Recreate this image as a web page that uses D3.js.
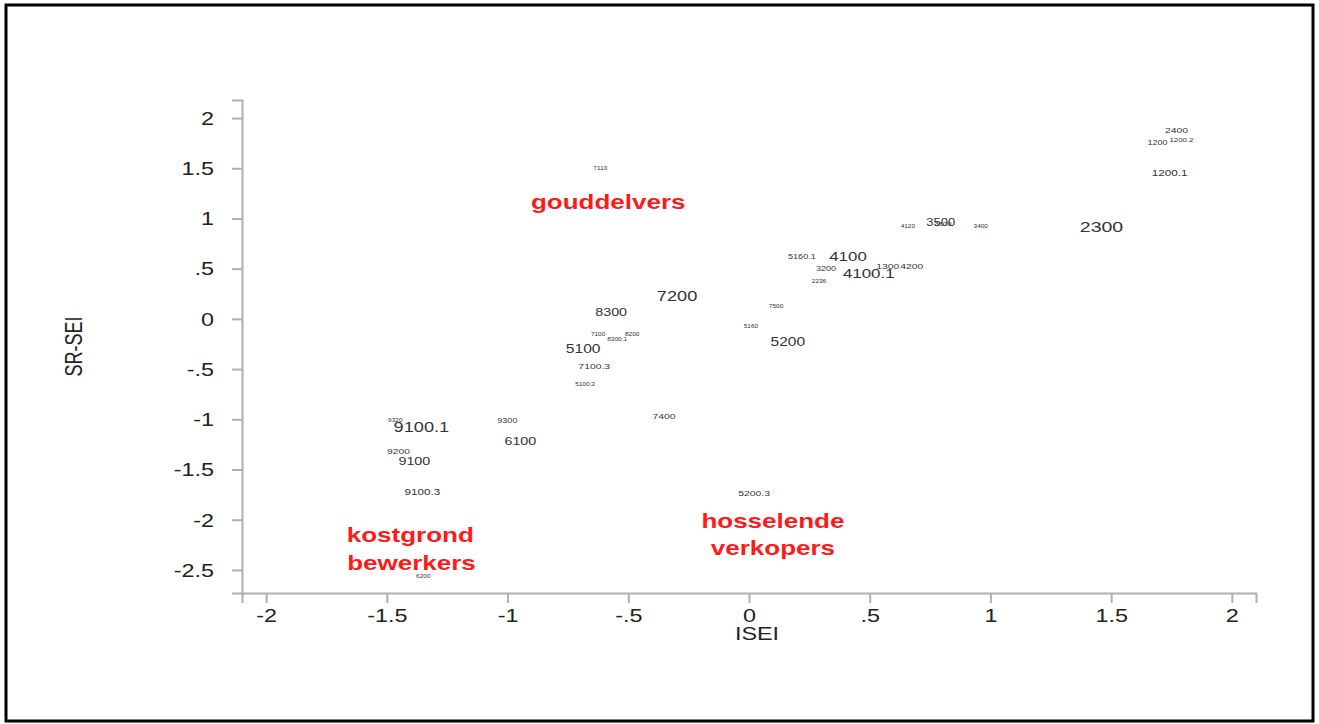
<!DOCTYPE html>
<html>
<head>
<meta charset="utf-8">
<script src="https://cdn.jsdelivr.net/npm/d3@7/dist/d3.min.js"></script>
<style>
  html, body { margin: 0; padding: 0; background: #fff; }
  svg { display: block; }
  text { font-family: "Liberation Sans", Arial, sans-serif; }
</style>
</head>
<body>
<script>
// Occupation codes placed by ISEI (x) and SR-SEI (y)
const codes = ["2400","1200","1200.2","1200.1","7110","4120","3500","3600","3400","2300",
  "5160.1","4100","3200","4100.1","1300","4200","2236","7200","8300","7500",
  "5160","5200","7100","8200","8300.1","5100","7100.3","5100.3","9100.1","9320",
  "9300","6100","9200","9100","9100.3","7400","5200.3","6200"];
const isei = [1.771,1.692,1.791,1.742,-0.616,0.658,0.794,0.803,0.960,1.460,
  0.219,0.410,0.319,0.496,0.575,0.674,0.290,-0.298,-0.571,0.112,
  0.008,0.161,-0.625,-0.484,-0.546,-0.687,-0.641,-0.679,-1.357,-1.465,
  -1.001,-0.947,-1.452,-1.386,-1.353,-0.352,0.021,-1.349];
const srsei = [1.879,1.759,1.779,1.451,1.501,0.924,0.964,0.944,0.924,0.915,
  0.616,0.626,0.497,0.457,0.527,0.527,0.378,0.229,0.070,0.129,
  -0.070,-0.229,-0.149,-0.149,-0.199,-0.298,-0.467,-0.646,-1.074,-1.014,
  -1.014,-1.213,-1.322,-1.421,-1.720,-0.974,-1.740,-2.565];
// relative weight of each code (label size)
const weight = [8,7,6,9,5,5,10,6,5,15,
  7,13,7,13,8,8,5,14,11,5,
  5,12,5,5,5,12,8,5,14,5,
  7,11,8,11,9,8,8,5];

// Quadrant annotations
const groupNames = ["gouddelvers","kostgrond","bewerkers","hosselende","verkopers"];
const groupX = [-0.583,-1.403,-1.398,0.099,0.099];
const groupY = [1.163,-2.157,-2.435,-2.008,-2.286];

const xTicks = [-2,-1.5,-1,-0.5,0,0.5,1,1.5,2];
const xTickLabels = ["-2","-1.5","-1","-.5","0",".5","1","1.5","2"];
const yTicks = [2,1.5,1,0.5,0,-0.5,-1,-1.5,-2,-2.5];
const yTickLabels = ["2","1.5","1",".5","0","-.5","-1","-1.5","-2","-2.5"];

const W = 1319, H = 724;
const WIDE = 1.3; // horizontal stretch of the lettering
const svg = d3.select("body").append("svg").attr("width", W).attr("height", H);

// outer frame
svg.append("rect").attr("x", 6).attr("y", 5).attr("width", 1307).attr("height", 716)
  .attr("fill", "#fff").attr("stroke", "#000").attr("stroke-width", 3);

const x = d3.scaleLinear().domain([-2.1, 2.1]).range([242, 1256]);
const y = d3.scaleLinear().domain([-2.73, 2.18]).range([593, 100]);

const axisColor = "#b0b0b0";

const gx = svg.append("g").attr("transform", `translate(0,${y.range()[0]})`)
  .call(d3.axisBottom(x).tickValues(xTicks).tickFormat((d, i) => xTickLabels[i])
    .tickSizeOuter(0).tickSize(10).tickPadding(6));
const gy = svg.append("g").attr("transform", `translate(${x.range()[0]},0)`)
  .call(d3.axisLeft(y).tickValues(yTicks).tickFormat((d, i) => yTickLabels[i])
    .tickSizeOuter(0).tickSize(10).tickPadding(18));

[gx, gy].forEach(g => {
  g.select(".domain").attr("stroke", axisColor).attr("stroke-width", 2);
  g.selectAll(".tick line").attr("stroke", axisColor).attr("stroke-width", 2);
  g.selectAll(".tick text").attr("fill", "#222").attr("font-size", 18)
    .attr("font-family", "'Liberation Sans', Arial, sans-serif")
    .attr("transform", `scale(${WIDE},1)`);
});
gy.selectAll(".tick text").attr("dy", "0.35em").attr("x", -28 / WIDE);

// axis titles
svg.append("text")
  .attr("transform", `translate(${(x(-2.1) + x(2.1)) / 2 + 8},640) scale(${WIDE},1)`)
  .attr("text-anchor", "middle").attr("font-size", 18).attr("fill", "#222").text("ISEI");
svg.append("text")
  .attr("transform", `translate(82,${(y(2.18) + y(-2.73)) / 2}) scale(${WIDE},1) rotate(-90)`)
  .attr("text-anchor", "middle").attr("font-size", 18).attr("fill", "#222").text("SR-SEI");

// code labels
svg.append("g").selectAll("text").data(codes).join("text")
  .attr("transform", (d, i) => `translate(${x(isei[i])},${y(srsei[i])}) scale(${WIDE},1)`)
  .attr("dy", "0.35em")
  .attr("text-anchor", "middle")
  .attr("font-size", (d, i) => weight[i])
  .attr("fill", "#333")
  .text(d => d);

// group annotations
svg.append("g").selectAll("text").data(groupNames).join("text")
  .attr("transform", (d, i) => `translate(${x(groupX[i])},${y(groupY[i])}) scale(${WIDE},1)`)
  .attr("dy", "0.35em")
  .attr("text-anchor", "middle")
  .attr("font-size", 20)
  .attr("font-weight", "bold")
  .attr("fill", "#ff1a1a")
  .text(d => d);
</script>
</body>
</html>
